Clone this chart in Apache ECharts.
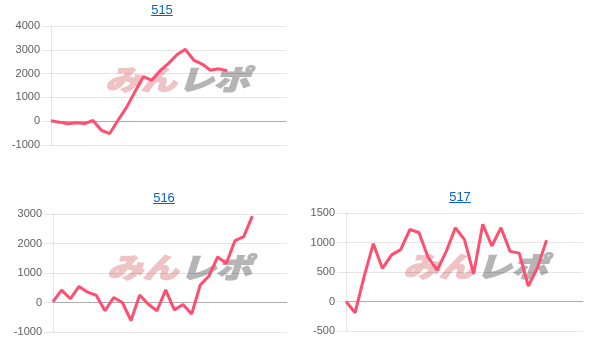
<!DOCTYPE html>
<html>
<head>
<meta charset="utf-8">
<script src="https://cdn.jsdelivr.net/npm/echarts@6/dist/echarts.min.js"></script>
<style>
html,body{margin:0;padding:0;background:#fff;}
#wrap{position:relative;width:612px;height:359px;}
#chart{position:absolute;left:0;top:0;width:612px;height:359px;}
.ttl{position:absolute;font-family:"Liberation Sans",Arial,sans-serif;font-size:13px;line-height:15px;color:#0b63c9;text-decoration:underline;transform:translateX(-50%);}
</style>
</head>
<body>
<div id="wrap">
<div id="chart"></div>
<a class="ttl" href="#" style="left:162px;top:2px;">515</a>
<a class="ttl" href="#" style="left:164px;top:190px;">516</a>
<a class="ttl" href="#" style="left:460px;top:189px;">517</a>
</div>
<script>
// Titles
const titles = ["515", "516", "517"];
// Number of x categories per chart
const catCount515 = 29;
const catCount516 = 28;
const catCount517 = 27;
// Series values
const values515 = [20, -40, -110, -70, -100, 30, -380, -520, 50, 580, 1240, 1870, 1720, 2120, 2430, 2790, 3020, 2570, 2400, 2140, 2200, 2120];
const values516 = [30, 420, 125, 545, 350, 240, -280, 170, 0, -610, 250, -60, -280, 430, -250, -70, -390, 600, 900, 1545, 1320, 2100, 2230, 2930];
const values517 = [0, -190, 430, 980, 560, 790, 880, 1220, 1170, 750, 530, 850, 1250, 1050, 470, 1310, 940, 1250, 850, 820, 260, 570, 1040];
// Y axis ranges / ticks
const yTicks515 = [-1000, 0, 1000, 2000, 3000, 4000];
const yTicks516 = [-1000, 0, 1000, 2000, 3000];
const yTicks517 = [-500, 0, 500, 1000, 1500];

function cats(n){ const a=[]; for(let i=1;i<=n;i++) a.push(String(i)); return a; }

const grids = [
  {left: 51, top: 26, width: 235, height: 119},
  {left: 53, top: 214, width: 234, height: 118},
  {left: 346, top: 213, width: 237, height: 118}
];
const counts = [catCount515, catCount516, catCount517];
const datas = [values515, values516, values517];
const ticks = [yTicks515, yTicks516, yTicks517];

const lineColor = '#ff4f70';

const option = {
  animation: false,
  grid: grids.map(g => Object.assign({containLabel:false}, g)),
  xAxis: grids.map((g,i) => ({
    type: 'category', gridIndex: i, data: cats(counts[i]), boundaryGap: false,
    axisLine: {show: true, onZero: true, lineStyle: {color: 'rgba(0,0,0,0.25)', width: 1}},
    axisTick: {show: false}, axisLabel: {show: false}, splitLine: {show: false}
  })),
  yAxis: grids.map((g,i) => {
    const t = ticks[i];
    return {
      type: 'value', gridIndex: i, min: t[0], max: t[t.length-1], interval: t[1]-t[0],
      axisLine: {show: true, lineStyle: {color: 'rgba(0,0,0,0.1)'}},
      axisTick: {show: true, length: 9, lineStyle: {color: 'rgba(0,0,0,0.1)'}},
      axisLabel: {color: '#5e5e5e', fontSize: 11, fontFamily: '"Liberation Sans", Arial, sans-serif', margin: 11, formatter: v => String(v)},
      splitLine: {show: true, lineStyle: {color: 'rgba(0,0,0,0.1)'}}
    };
  }),
  graphic: [
    [105, 65], [107, 253], [403, 252]
  ].map(p => ({
    type: 'group', x: p[0], y: p[1], z: -10, silent: true,
    children: [
      {type: 'text', x: 0, y: 0, z: -10, scaleX: 1.28, style: {text: 'みん', font: 'italic 900 28px "Noto Sans CJK JP"', fill: '#efc2c4', stroke: '#efc2c4', lineWidth: 1.2, textVerticalAlign: 'top'}},
      {type: 'text', x: 73, y: 0, z: -10, scaleX: 1.28, style: {text: 'レポ', font: 'italic 900 28px "Noto Sans CJK JP"', fill: '#b5b5b5', stroke: '#b5b5b5', lineWidth: 1.2, textVerticalAlign: 'top'}}
    ]
  })),
  series: datas.map((d,i) => ({
    type: 'line', xAxisIndex: i, yAxisIndex: i, data: d, showSymbol: false, symbol: 'none',
    z: 5, lineStyle: {color: lineColor, width: 3}, itemStyle: {color: lineColor}
  }))
};
const chart = echarts.init(document.getElementById('chart'), null, {renderer: 'canvas'});
chart.setOption(option);
</script>
</body>
</html>
